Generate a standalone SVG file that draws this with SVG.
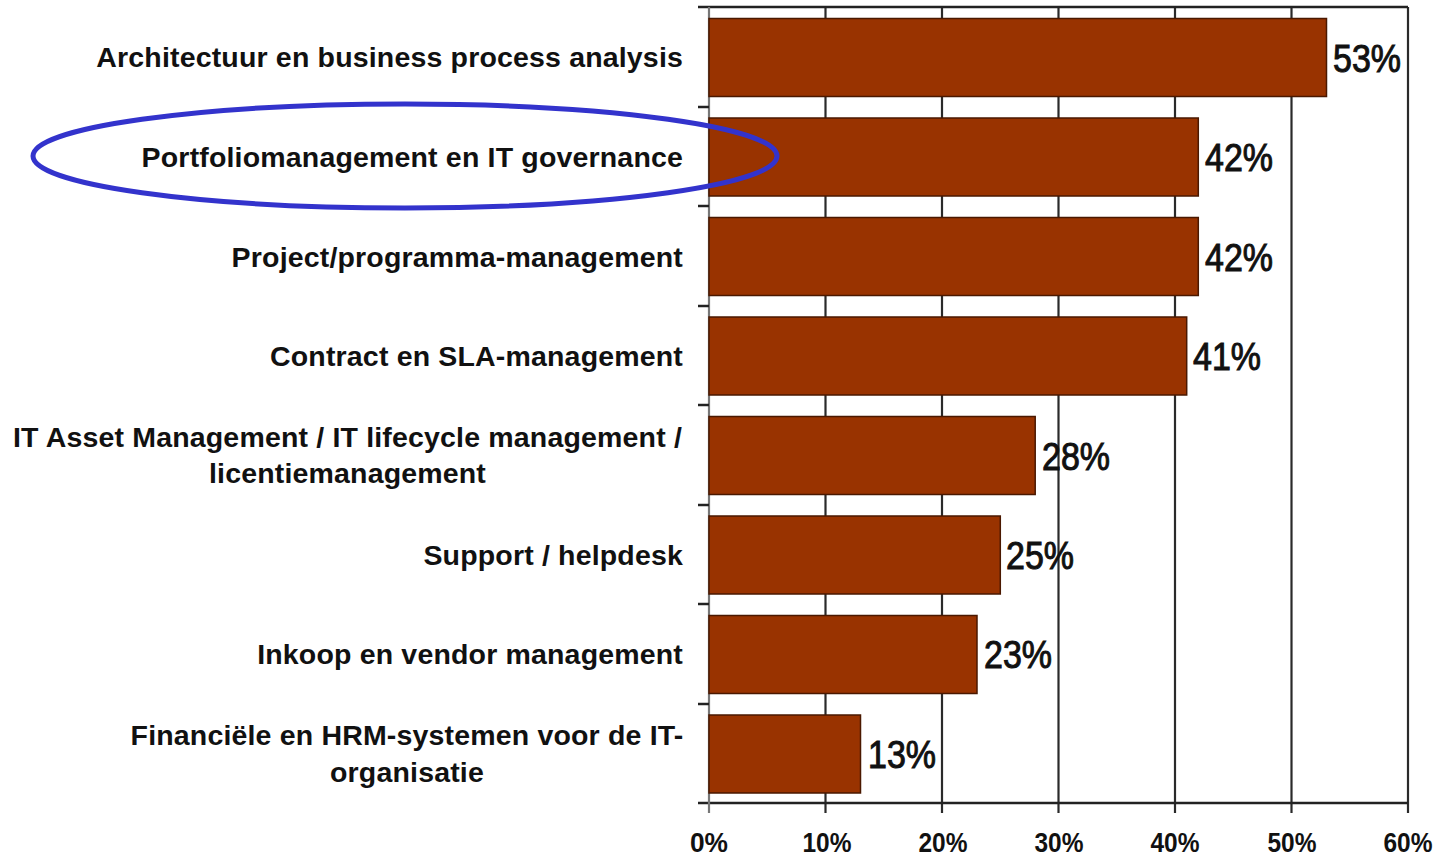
<svg xmlns="http://www.w3.org/2000/svg" width="1445" height="856" viewBox="0 0 1445 856">
<style>
.cat{font-family:"Liberation Sans",Arial,sans-serif;font-weight:bold;font-size:28.5px;letter-spacing:0.17px;fill:#111;}
.val{font-family:"Liberation Sans",Arial,sans-serif;font-size:38px;fill:#111;stroke:#111;stroke-width:1;}
.ax{font-family:"Liberation Sans",Arial,sans-serif;font-weight:bold;font-size:28px;fill:#111;text-anchor:middle;}
.bar{fill:#993300;stroke:#4a1800;stroke-width:1.5;}
.grid{stroke:#2a2a2a;stroke-width:2.2;}
.axis{stroke:#222;stroke-width:2.5;}
</style>
<rect width="1445" height="856" fill="#fff"/>
<g id="grid">
<line class="grid" x1="825.5" y1="7" x2="825.5" y2="813"/>
<line class="grid" x1="942" y1="7" x2="942" y2="813"/>
<line class="grid" x1="1058.5" y1="7" x2="1058.5" y2="813"/>
<line class="grid" x1="1175" y1="7" x2="1175" y2="813"/>
<line class="grid" x1="1291.5" y1="7" x2="1291.5" y2="813"/>
<line class="grid" x1="1408" y1="7" x2="1408" y2="813"/>
<line class="axis" x1="698" y1="7" x2="1408" y2="7"/>
<line class="axis" x1="698" y1="803" x2="1408" y2="803"/>
<line x1="709" y1="7" x2="709" y2="813" stroke="#777" stroke-width="2.2"/>
<g class="axis">
<line x1="698" y1="107" x2="709" y2="107"/>
<line x1="698" y1="206" x2="709" y2="206"/>
<line x1="698" y1="306" x2="709" y2="306"/>
<line x1="698" y1="405" x2="709" y2="405"/>
<line x1="698" y1="505" x2="709" y2="505"/>
<line x1="698" y1="604" x2="709" y2="604"/>
<line x1="698" y1="704" x2="709" y2="704"/>
</g>
</g>
<g id="row1">
<rect class="bar" x="709" y="18.5" width="617.5" height="78"/>
<text class="cat" x="683" y="67" text-anchor="end">Architectuur en business process analysis</text>
<text class="val" x="1333" y="72" textLength="68" lengthAdjust="spacingAndGlyphs">53%</text>
</g>
<g id="row2">
<rect class="bar" x="709" y="118" width="489.3" height="78"/>
<text class="cat" x="683" y="167" text-anchor="end">Portfoliomanagement en IT governance</text>
<text class="val" x="1205" y="171" textLength="68" lengthAdjust="spacingAndGlyphs">42%</text>
</g>
<g id="row3">
<rect class="bar" x="709" y="217.5" width="489.3" height="78"/>
<text class="cat" x="683" y="267" text-anchor="end">Project/programma-management</text>
<text class="val" x="1205" y="271" textLength="68" lengthAdjust="spacingAndGlyphs">42%</text>
</g>
<g id="row4">
<rect class="bar" x="709" y="317" width="477.7" height="78"/>
<text class="cat" x="683" y="366" text-anchor="end">Contract en SLA-management</text>
<text class="val" x="1193" y="370" textLength="68" lengthAdjust="spacingAndGlyphs">41%</text>
</g>
<g id="row5">
<rect class="bar" x="709" y="416.5" width="326.2" height="78"/>
<text class="cat" x="347.5" y="447" text-anchor="middle">IT Asset Management / IT lifecycle management /</text>
<text class="cat" x="347.5" y="483" text-anchor="middle">licentiemanagement</text>
<text class="val" x="1042" y="470" textLength="68" lengthAdjust="spacingAndGlyphs">28%</text>
</g>
<g id="row6">
<rect class="bar" x="709" y="516" width="291.3" height="78"/>
<text class="cat" x="683" y="565" text-anchor="end">Support / helpdesk</text>
<text class="val" x="1006" y="569" textLength="68" lengthAdjust="spacingAndGlyphs">25%</text>
</g>
<g id="row7">
<rect class="bar" x="709" y="615.5" width="268" height="78"/>
<text class="cat" x="683" y="664" text-anchor="end">Inkoop en vendor management</text>
<text class="val" x="984" y="668" textLength="68" lengthAdjust="spacingAndGlyphs">23%</text>
</g>
<g id="row8">
<rect class="bar" x="709" y="715" width="151.5" height="78"/>
<text class="cat" x="407" y="745" text-anchor="middle">Financiële en HRM-systemen voor de IT-</text>
<text class="cat" x="407" y="782" text-anchor="middle">organisatie</text>
<text class="val" x="868" y="768" textLength="68" lengthAdjust="spacingAndGlyphs">13%</text>
</g>
<g id="axis-labels">
<text class="ax" x="709" y="852" textLength="38" lengthAdjust="spacingAndGlyphs">0%</text>
<text class="ax" x="827" y="852" textLength="49" lengthAdjust="spacingAndGlyphs">10%</text>
<text class="ax" x="943" y="852" textLength="49" lengthAdjust="spacingAndGlyphs">20%</text>
<text class="ax" x="1059" y="852" textLength="49" lengthAdjust="spacingAndGlyphs">30%</text>
<text class="ax" x="1175" y="852" textLength="49" lengthAdjust="spacingAndGlyphs">40%</text>
<text class="ax" x="1292" y="852" textLength="49" lengthAdjust="spacingAndGlyphs">50%</text>
<text class="ax" x="1408" y="852" textLength="49" lengthAdjust="spacingAndGlyphs">60%</text>
</g>
<g id="highlight">
<ellipse cx="405" cy="156" rx="372" ry="52" fill="none" stroke="#3333cc" stroke-width="5"/>
</g>
<g id="connectors"/>
</svg>
